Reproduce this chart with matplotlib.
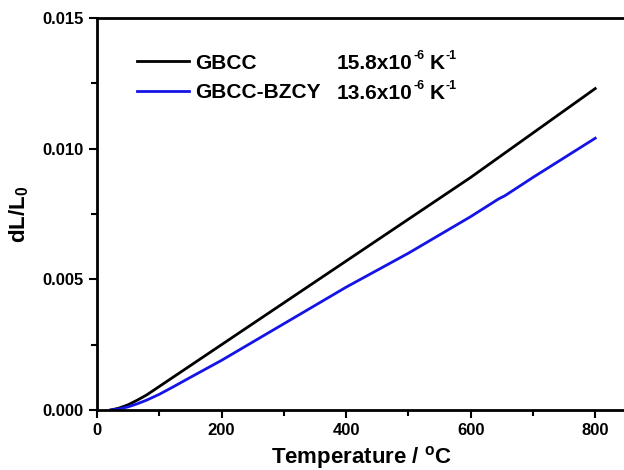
import matplotlib
matplotlib.use("Agg")
import matplotlib.pyplot as plt
from matplotlib.ticker import MultipleLocator, FormatStrFormatter

plt.rcParams['font.family'] = ['Liberation Sans', 'DejaVu Sans']
plt.rcParams['font.weight'] = 'bold'
plt.rcParams['axes.unicode_minus'] = False
plt.rcParams['mathtext.fontset'] = 'custom'
plt.rcParams['mathtext.rm'] = 'Liberation Sans:bold'
plt.rcParams['mathtext.it'] = 'Liberation Sans:bold'
plt.rcParams['mathtext.bf'] = 'Liberation Sans:bold'
plt.rcParams['mathtext.default'] = 'rm'

names = ["GBCC", "GBCC-BZCY"]
coeff_base = ["15.8x10", "13.6x10"]
coeff_exp = "-6"
unit_base = "K"
unit_exp = "-1"
colors = ["black", "#1414e6"]

t_gbcc = [22, 35, 50, 65, 80, 100, 125, 150, 200, 300, 400, 500, 600, 700, 800]
dl_gbcc = [0.0, 0.00007, 0.0002, 0.00038, 0.00058, 0.0009, 0.0013, 0.0017, 0.0025, 0.0041, 0.0057, 0.0073, 0.0089, 0.0106, 0.0123]
t_bzcy = [22, 35, 50, 65, 80, 100, 125, 150, 200, 300, 400, 500, 600, 645, 655, 700, 800]
dl_bzcy = [0.0, 0.00004, 0.00012, 0.00024, 0.00038, 0.0006, 0.00092, 0.00125, 0.0019, 0.0033, 0.0047, 0.0060, 0.0074, 0.00808, 0.0082, 0.0089, 0.0104]

fig = plt.figure(figsize=(6.24, 4.70), dpi=100)
ax = fig.add_axes([97/624, 60/470, 530/624, 392/470])

l1, = ax.plot(t_gbcc, dl_gbcc, color=colors[0], lw=2)
l2, = ax.plot(t_bzcy, dl_bzcy, color=colors[1], lw=2)

ax.set_xlim(0, 851)
ax.set_ylim(0, 0.015)
ax.xaxis.set_major_locator(MultipleLocator(200))
ax.xaxis.set_minor_locator(MultipleLocator(100))
ax.yaxis.set_major_locator(MultipleLocator(0.005))
ax.yaxis.set_minor_locator(MultipleLocator(0.0025))
ax.yaxis.set_major_formatter(FormatStrFormatter('%.3f'))
ax.tick_params(which='major', direction='out', length=6, width=1.5, labelsize=12, top=False, right=False)
ax.tick_params(which='minor', direction='out', length=4, width=1.5, top=False, right=False)
for s in ['left', 'bottom', 'top']:
    ax.spines[s].set_linewidth(2)
ax.spines['right'].set_visible(False)
for lab in ax.get_xticklabels() + ax.get_yticklabels():
    lab.set_fontweight('bold')

ax.set_xlabel(r"Temperature / $^{\mathrm{o}}$C", fontsize=16, fontweight='bold', labelpad=4)
ax.set_ylabel(r"dL/L$_{0}$", fontsize=16, fontweight='bold', labelpad=8)

leg = ax.legend([l1, l2], names, loc='upper left', bbox_to_anchor=(122/624, 1 - 39/470),
                bbox_transform=fig.transFigure, borderpad=0.2,
                frameon=False, handlelength=2.5, handletextpad=0.33,
                labelspacing=0.5, prop={'weight': 'bold', 'size': 15})

# coefficient column, composed from pieces with small superscripts
renderer = fig.canvas.get_renderer()
H = 470.0
W = 624.0
for i, base in enumerate(coeff_base):
    yc = 62 + 30 * i  # pixel row centre from top
    x = 337.0
    t = fig.text(x / W, 1 - (yc + 7) / H, base, fontsize=15, fontweight='bold',
                 va='baseline', ha='left')
    bb = t.get_window_extent(renderer)
    x = bb.x1 + 1
    t = fig.text(x / W, 1 - (yc - 3) / H, coeff_exp, fontsize=9, fontweight='bold',
                 va='baseline', ha='left')
    bb = t.get_window_extent(renderer)
    x = bb.x1 + 5
    t = fig.text(x / W, 1 - (yc + 7) / H, unit_base, fontsize=15, fontweight='bold',
                 va='baseline', ha='left')
    bb = t.get_window_extent(renderer)
    x = bb.x1 + 0.5
    fig.text(x / W, 1 - (yc - 3) / H, unit_exp, fontsize=9, fontweight='bold',
             va='baseline', ha='left')

fig.savefig("out.png", dpi=100)
